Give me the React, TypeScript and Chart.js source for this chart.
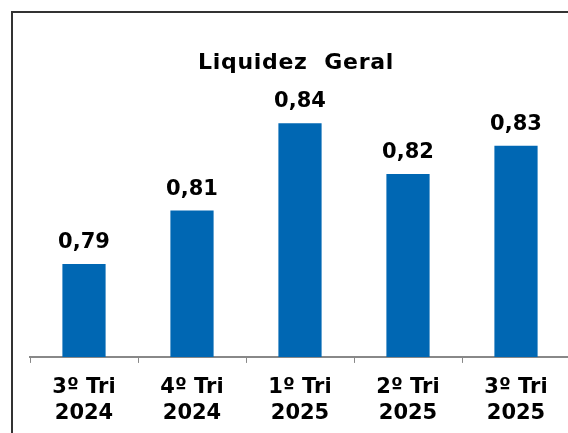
import React, { useEffect, useRef } from "react";
import { Chart, registerables } from "chart.js";

Chart.register(...registerables);

const titleText = "Liquidez  Geral";
const categories: string[][] = [
  ["3º Tri", "2024"],
  ["4º Tri", "2024"],
  ["1º Tri", "2025"],
  ["2º Tri", "2025"],
  ["3º Tri", "2025"],
];
const values: number[] = [0.79, 0.809, 0.84, 0.822, 0.832];
const valueLabels: string[] = ["0,79", "0,81", "0,84", "0,82", "0,83"];

const FONT = "'DejaVu Sans', Verdana, sans-serif";
const BAR_COLOR = "#0067B3";

const valueLabelPlugin = {
  id: "valueLabels",
  afterDatasetsDraw(chart: any) {
    const ctx = chart.ctx;
    const meta = chart.getDatasetMeta(0);
    ctx.save();
    ctx.font = `bold 21px ${FONT}`;
    ctx.fillStyle = "#000";
    ctx.textAlign = "center";
    ctx.textBaseline = "alphabetic";
    meta.data.forEach((bar: any, i: number) => {
      ctx.fillText(valueLabels[i], bar.x, bar.y - 16);
    });
    ctx.restore();
  },
};

const titlePlugin = {
  id: "customTitle",
  afterDraw(chart: any) {
    const ctx = chart.ctx;
    ctx.save();
    ctx.font = `bold 22px ${FONT}`;
    (ctx as any).letterSpacing = "0.7px";
    ctx.fillStyle = "#000";
    ctx.textAlign = "center";
    ctx.textBaseline = "alphabetic";
    ctx.fillText(titleText, chart.width / 2, 57);
    ctx.restore();
  },
};

export default function App() {
  const ref = useRef<HTMLCanvasElement>(null);

  useEffect(() => {
    if (!ref.current) return;
    const chart = new Chart(ref.current, {
      type: "bar",
      data: {
        labels: categories,
        datasets: [
          {
            data: values,
            backgroundColor: BAR_COLOR,
            borderWidth: 0,
            categoryPercentage: 1,
            barPercentage: 0.4,
          },
        ],
      },
      options: {
        animation: false,
        responsive: false,
        maintainAspectRatio: false,
        layout: { padding: { left: 18, right: 10, top: 88, bottom: 6 } },
        plugins: {
          legend: { display: false },
          tooltip: { enabled: false },
          title: { display: false },
        },
        scales: {
          x: {
            grid: {
              display: true,
              drawOnChartArea: false,
              drawTicks: true,
              tickLength: 6,
              color: "#888",
              lineWidth: 1,
              offset: true,
            },
            border: { display: true, color: "#888", width: 2 },
            ticks: {
              color: "#000",
              padding: 12,
              maxRotation: 0,
              autoSkip: false,
              font: { family: FONT, size: 21, weight: "bold", lineHeight: 1.24 },
            },
          },
          y: {
            display: false,
            min: 0.757,
            max: 0.8483,
          },
        },
      },
      plugins: [valueLabelPlugin, titlePlugin],
    });
    return () => chart.destroy();
  }, []);

  return (
    <div
      style={{
        position: "fixed",
        left: 0,
        top: 0,
        width: 568,
        height: 433,
        overflow: "hidden",
        background: "#fff",
      }}
    >
      <div
        style={{
          position: "absolute",
          left: 11,
          top: 11,
          width: 620,
          height: 520,
          border: "2px solid #333",
        }}
      />
      <canvas
        ref={ref}
        width={568}
        height={433}
        style={{ position: "absolute", left: 12, top: 12, width: 568, height: 433 }}
      />
    </div>
  );
}
